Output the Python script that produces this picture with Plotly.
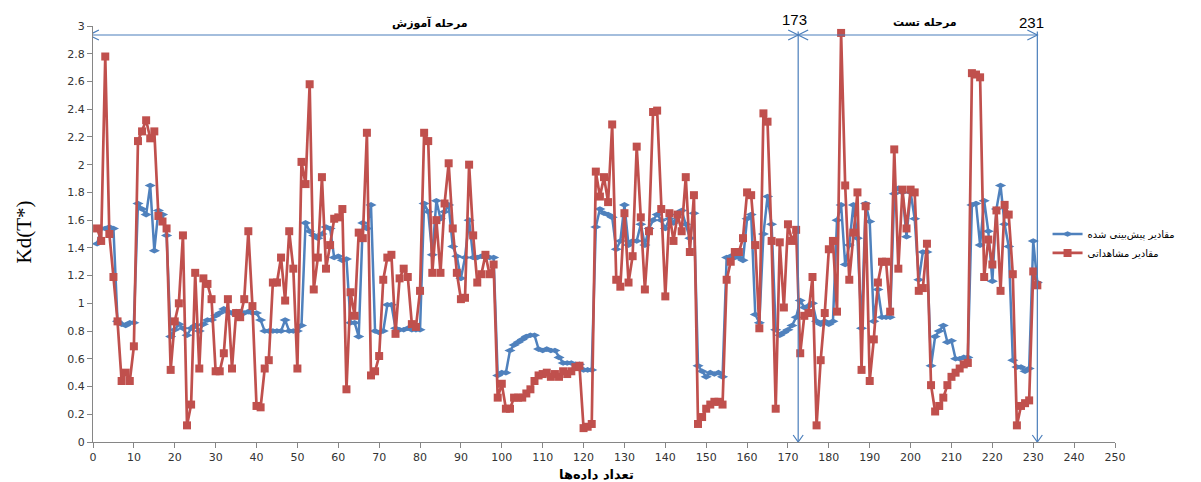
import plotly.graph_objects as go

# ---------------- data ----------------
x_index = list(range(1, 232))

predicted = [
    1.43, 1.54, 1.54, 1.55, 1.54, 0.87, 0.85, 0.84, 0.86, 0.86,
    1.72, 1.68, 1.64, 1.85, 1.38, 1.67, 1.64, 1.49, 0.76, 0.81,
    0.85, 0.82, 0.77, 0.82, 0.84, 0.80, 0.85, 0.88, 0.88, 0.91,
    0.93, 0.96, 0.94, 0.93, 0.94, 0.94, 0.93, 0.94, 0.93, 0.93,
    0.88, 0.80, 0.80, 0.80, 0.80, 0.80, 0.88, 0.80, 0.80, 0.80,
    0.84, 1.58, 1.52, 1.49, 1.47, 1.50, 1.55, 1.54, 1.33, 1.34,
    1.31, 1.32, 0.86, 0.86, 0.76, 1.58, 1.54, 1.71, 0.80, 0.79,
    0.80, 0.99, 0.99, 0.82, 0.81, 0.81, 0.82, 0.81, 0.81, 0.81,
    1.72, 1.66, 1.35, 1.74, 1.61, 1.66, 1.71, 1.41, 1.34, 1.18,
    1.33, 1.60, 1.33, 1.33, 1.34, 1.33, 1.33, 1.33, 0.48, 0.50,
    0.50, 0.66, 0.70, 0.72, 0.74, 0.76, 0.77, 0.77, 0.67, 0.66,
    0.67, 0.66, 0.66, 0.61, 0.57, 0.57, 0.57, 0.56, 0.56, 0.52,
    0.52, 0.52, 1.55, 1.68, 1.65, 1.64, 1.62, 1.39, 1.45, 1.71,
    1.42, 1.45, 1.45, 1.57, 1.42, 1.54, 1.60, 1.64, 1.60, 1.54,
    1.61, 1.58, 1.64, 1.67, 1.57, 1.47, 1.65, 0.55, 0.51, 0.47,
    0.50, 0.49, 0.50, 0.47, 1.33, 1.34, 1.33, 1.33, 1.31, 1.61,
    1.64, 0.92, 0.86, 1.50, 1.77, 1.57, 0.81, 0.77, 0.79, 0.81,
    0.84, 0.90, 1.02, 0.97, 0.98, 1.00, 0.87, 0.85, 0.87, 0.85,
    0.87, 1.60, 1.71, 1.28, 1.42, 1.71, 1.47, 0.82, 1.72, 1.59,
    0.87, 1.10, 0.90, 0.90, 0.90, 1.79, 1.83, 1.80, 1.48, 1.80,
    1.61, 1.17, 1.37, 1.37, 0.55, 0.76, 0.80, 0.84, 0.72, 0.73,
    0.60, 0.60, 0.61, 0.61, 1.71, 1.72, 1.42, 1.74, 1.52, 1.16,
    1.68, 1.85, 1.57, 1.41, 0.59, 0.54, 0.54, 0.51, 0.53, 1.45, 1.15,
]

observed = [
    1.54, 1.45, 2.78, 1.50, 1.19, 0.87, 0.44, 0.50, 0.44, 0.69,
    2.17, 2.24, 2.32, 2.19, 2.24, 1.63, 1.59, 1.54, 0.52, 0.87,
    1.00, 1.49, 0.12, 0.27, 1.22, 0.53, 1.18, 1.14, 1.03, 0.51,
    0.51, 0.64, 1.03, 0.53, 0.93, 0.90, 1.03, 1.52, 0.98, 0.26,
    0.25, 0.53, 0.59, 1.15, 1.15, 1.33, 1.02, 1.52, 1.25, 0.53,
    2.02, 1.86, 2.58, 1.10, 1.33, 1.91, 1.25, 1.42, 1.61, 1.62,
    1.68, 0.38, 1.08, 0.91, 1.51, 1.47, 2.23, 0.48, 0.51, 0.62,
    1.17, 1.33, 1.35, 0.78, 1.18, 1.25, 1.19, 0.85, 0.83, 1.09,
    2.23, 2.17, 1.22, 1.60, 1.22, 1.72, 2.01, 1.54, 1.22, 1.03,
    1.04, 2.00, 1.49, 1.15, 1.21, 1.35, 1.21, 1.28, 0.32, 0.42,
    0.24, 0.24, 0.32, 0.32, 0.32, 0.35, 0.38, 0.44, 0.48, 0.49,
    0.50, 0.47, 0.49, 0.47, 0.51, 0.49, 0.51, 0.54, 0.55, 0.10,
    0.11, 0.13, 1.95, 1.77, 1.91, 1.73, 2.29, 1.17, 1.12, 1.65,
    1.15, 1.34, 2.13, 1.62, 1.10, 1.52, 2.38, 2.39, 1.68, 1.05,
    1.65, 1.45, 1.64, 1.52, 1.91, 1.37, 1.78, 0.13, 0.18, 0.24,
    0.27, 0.29, 0.29, 0.27, 1.17, 1.30, 1.37, 1.37, 1.47, 1.80,
    1.78, 1.42, 0.82, 2.37, 2.31, 1.45, 0.24, 1.44, 0.97, 1.57,
    1.45, 1.53, 0.64, 0.91, 0.93, 1.19, 0.12, 0.59, 0.93, 1.39,
    1.45, 0.94, 2.95, 1.85, 1.17, 1.51, 1.80, 0.52, 1.70, 0.44,
    0.74, 1.15, 1.30, 1.30, 0.94, 2.11, 1.25, 1.82, 1.54, 1.82,
    1.80, 1.09, 1.11, 1.43, 0.41, 0.22, 0.26, 0.32, 0.41, 0.47,
    0.50, 0.53, 0.56, 0.57, 2.66, 2.65, 2.63, 1.19, 1.46, 1.28,
    1.67, 1.09, 1.71, 1.64, 1.21, 0.12, 0.26, 0.28, 0.30, 1.23, 1.13,
]

series_names = ["مقادیر پیش‌بینی شده", "مقادیر مشاهداتی"]
stage_labels = ["مرحله آموزش", "مرحله تست"]
split_labels = ["173", "231"]
split_positions = [172.5, 231.0]
x_title = "تعداد داده‌ها"
y_title = "Kd(T*)"
x_ticks = list(range(0, 251, 10))
Y_MAX = 3.0

BLUE = "#4F81BD"
RED = "#C0504D"
ARROW = "#4A7EBB"
PERSIAN_FONT = "DejaVu Sans"

fig = go.Figure()
fig.add_trace(go.Scatter(
    x=x_index, y=predicted, name=series_names[0], mode="lines+markers",
    line=dict(color=BLUE, width=2.5),
    marker=dict(symbol="diamond-wide", size=8, color=BLUE),
))
fig.add_trace(go.Scatter(
    x=x_index, y=observed, name=series_names[1], mode="lines+markers",
    line=dict(color=RED, width=2.7),
    marker=dict(symbol="square", size=8, color=RED),
))

# ---------------- stage arrows ----------------
arrow_y = 2.935
line_style = dict(color=ARROW, width=1.2)
shapes = []
shapes.append(dict(type="line", xref="x", yref="y", x0=-1, x1=split_positions[0],
                   y0=arrow_y, y1=arrow_y, line=line_style))
shapes.append(dict(type="line", xref="x", yref="y", x0=split_positions[0], x1=split_positions[1],
                   y0=arrow_y, y1=arrow_y, line=line_style))
for xp in split_positions:
    shapes.append(dict(type="line", xref="x", yref="y", x0=xp, x1=xp,
                       y0=0, y1=2.96, line=line_style))
    shapes.append(dict(type="path", xref="x", yref="y", xsizemode="pixel", ysizemode="pixel",
                       xanchor=xp, yanchor=0, path="M -5,7 L 0,0 L 5,7", line=line_style))


def head(xp, direction):
    d = -direction
    return dict(type="path", xref="x", yref="y", xsizemode="pixel", ysizemode="pixel",
                xanchor=xp, yanchor=arrow_y,
                path=f"M {d*10},5 L 0,0 L {d*10},-5", line=line_style)


shapes.append(head(-1, -1))
shapes.append(head(split_positions[0], 1))
shapes.append(head(split_positions[0], -1))
shapes.append(head(split_positions[1], 1))


def py(v):
    # data y value -> paper y (axis range is 0..Y_MAX)
    return v / Y_MAX


annotations = [
    dict(x=82.5, y=py(3.025), xref="x", yref="paper", text=f"<b>{stage_labels[0]}</b>", showarrow=False,
         font=dict(family=PERSIAN_FONT, size=11, color="#000"), yanchor="middle"),
    dict(x=203.5, y=py(3.025), xref="x", yref="paper", text=f"<b>{stage_labels[1]}</b>", showarrow=False,
         font=dict(family=PERSIAN_FONT, size=11, color="#000"), yanchor="middle"),
    dict(x=171.5, y=py(3.05), xref="x", yref="paper", text=split_labels[0], showarrow=False,
         font=dict(family="Liberation Sans", size=15, color="#000"), yanchor="middle"),
    dict(x=229.5, y=py(3.025), xref="x", yref="paper", text=split_labels[1], showarrow=False,
         font=dict(family="Liberation Sans", size=15, color="#000"), yanchor="middle"),
    dict(x=-0.068, y=0.505, xref="paper", yref="paper", text=y_title, showarrow=False,
         textangle=-90, font=dict(family="Liberation Serif", size=21, color="#000"),
         xanchor="center", yanchor="middle"),
    dict(x=0.493, y=-0.077, xref="paper", yref="paper", text=f"<b>{x_title}</b>", showarrow=False,
         font=dict(family=PERSIAN_FONT, size=13, color="#000"),
         xanchor="center", yanchor="middle"),
]

axis_font = dict(family="DejaVu Sans", size=11, color="#333")
# the page body has an 8px margin, so the figure is sized/offset to compensate
fig.update_layout(
    width=1193, height=474,
    margin=dict(l=85, r=86, t=14, b=40),
    paper_bgcolor="white", plot_bgcolor="white",
    showlegend=True,
    legend=dict(x=0.934, y=0.535, xanchor="left", yanchor="top",
                font=dict(family=PERSIAN_FONT, size=10, color="#000"),
                bgcolor="rgba(0,0,0,0)", itemwidth=30, tracegroupgap=0),
    shapes=shapes,
    annotations=annotations,
    xaxis=dict(range=[0, 250], tickvals=x_ticks, ticks="outside", ticklen=5,
               tickcolor="#868686", showline=True, linecolor="#868686", linewidth=1,
               showgrid=False, zeroline=False, tickfont=axis_font),
    yaxis=dict(range=[0, Y_MAX], dtick=0.2, tick0=0, ticks="outside", ticklen=5,
               tickcolor="#868686", showline=True, linecolor="#868686", linewidth=1,
               showgrid=False, zeroline=False, tickfont=axis_font),
)

fig.write_html("out.html")
